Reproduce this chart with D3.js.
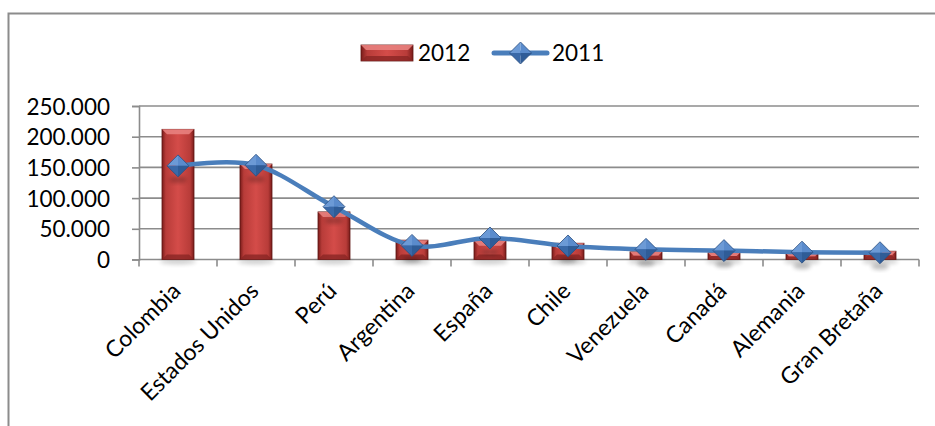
<!DOCTYPE html>
<html>
<head>
<meta charset="utf-8">
<script src="https://cdn.jsdelivr.net/npm/d3@7"></script>
<style>
  html, body { margin: 0; padding: 0; background: #fff; }
  svg { display: block; }
  text { font-family: Lato, "Open Sans", sans-serif; fill: #000; }
</style>
</head>
<body>
<svg id="chart" width="935" height="426"></svg>
<script>
// Visitors by country of origin, 2012 vs 2011
const categories = ["Colombia", "Estados Unidos", "Perú", "Argentina", "España",
                    "Chile", "Venezuela", "Canadá", "Alemania", "Gran Bretaña"];
const values2012 = [212000, 155500, 77500, 31500, 30500, 26500, 12500, 11000, 10000, 13500];
const values2011 = [152500, 153500, 86000, 23000, 35000, 22000, 16500, 14500, 12000, 11000];
const yTicks = [0, 50000, 100000, 150000, 200000, 250000];
const seriesNames = ["2012", "2011"];

const svg = d3.select("#chart");
const W = 935, H = 426;
const plot = { left: 139, right: 919, top: 106, bottom: 259.5 };

const x = d3.scaleBand().domain(categories).range([plot.left, plot.right]).paddingInner(0).paddingOuter(0);
const y = d3.scaleLinear().domain([0, 250000]).range([plot.bottom, plot.top]);
const fmt = v => v === 0 ? "0" : d3.format(",")(v).replace(/,/g, ".");

// ---------- gradients / filters ----------
const defs = svg.append("defs");
const barGrad = defs.append("linearGradient").attr("id", "barGrad")
  .attr("x1", 0).attr("x2", 1).attr("y1", 0).attr("y2", 0);
[[0, "#7a1c1a"], [0.12, "#b83c39"], [0.5, "#d44c49"], [0.88, "#b83c39"], [1, "#7a1c1a"]]
  .forEach(([o, c]) => barGrad.append("stop").attr("offset", o).attr("stop-color", c));

const shadow = defs.append("filter").attr("id", "shadow")
  .attr("x", "-50%").attr("y", "-50%").attr("width", "200%").attr("height", "200%");
shadow.append("feGaussianBlur").attr("stdDeviation", 2.2);

// ---------- frame ----------
svg.append("rect").attr("width", W).attr("height", H).attr("fill", "#fff");
svg.append("path").attr("d", `M8.5,${H} V13.5 H${W}`)
  .attr("fill", "none").attr("stroke", "#8c8c8c").attr("stroke-width", 2);

// ---------- gridlines ----------
svg.append("g").selectAll("line").data(yTicks.filter(t => t > 0)).join("line")
  .attr("x1", plot.left).attr("x2", plot.right)
  .attr("y1", d => y(d)).attr("y2", d => y(d))
  .attr("stroke", "#8c8c8c").attr("stroke-width", 1.6);

// ---------- axes ----------
const yAxis = svg.append("g").attr("transform", `translate(${plot.left},0)`)
  .call(d3.axisLeft(y).tickValues(yTicks).tickFormat(fmt).tickSize(7).tickPadding(22));
yAxis.select(".domain").attr("stroke", "#8c8c8c").attr("stroke-width", 1.6);
yAxis.selectAll(".tick line").attr("stroke", "#8c8c8c").attr("stroke-width", 1.6);
yAxis.selectAll(".tick text").attr("font-size", 22.5).attr("font-family", "Lato, sans-serif")
  .attr("fill", "#000").attr("dy", "0.36em");

const xAxisG = svg.append("g").attr("transform", `translate(0,${plot.bottom})`);
xAxisG.append("line").attr("x1", plot.left).attr("x2", plot.right)
  .attr("stroke", "#8c8c8c").attr("stroke-width", 1.6);
const tickXs = d3.range(categories.length + 1).map(i => plot.left + i * x.bandwidth());
xAxisG.selectAll("line.tk").data(tickXs).join("line").attr("class", "tk")
  .attr("x1", d => d).attr("x2", d => d).attr("y1", 0).attr("y2", 7)
  .attr("stroke", "#8c8c8c").attr("stroke-width", 1.6);

svg.append("g").selectAll("text").data(categories).join("text")
  .attr("transform", d => `translate(${x(d) + x.bandwidth() / 2 + 4},${plot.bottom + 33}) rotate(-45)`)
  .attr("text-anchor", "end").attr("font-size", 23).text(d => d);

// ---------- bars (2012) ----------
const barW = 32;
function drawBar(g, x0, y0, w, h) {
  const bev = Math.min(5, h / 2);
  g.append("rect").attr("x", x0).attr("y", y0).attr("width", w).attr("height", h)
    .attr("fill", "url(#barGrad)").attr("stroke", "#5e1513").attr("stroke-width", 0.8);
  // top bevel
  g.append("path")
    .attr("d", `M${x0},${y0} H${x0 + w} L${x0 + w - bev},${y0 + bev} H${x0 + bev} Z`)
    .attr("fill", "#e8817e").attr("opacity", 0.9);
  // bottom bevel
  g.append("path")
    .attr("d", `M${x0},${y0 + h} H${x0 + w} L${x0 + w - bev},${y0 + h - bev} H${x0 + bev} Z`)
    .attr("fill", "#8a2624").attr("opacity", 0.8);
}
const barsG = svg.append("g");
// soft base shadows
barsG.selectAll("ellipse").data(values2012).join("ellipse")
  .attr("cx", (d, i) => x(categories[i]) + x.bandwidth() / 2)
  .attr("cy", plot.bottom + 2).attr("rx", barW / 2 + 2).attr("ry", 3)
  .attr("fill", "#000").attr("opacity", 0.18).attr("filter", "url(#shadow)");
values2012.forEach((v, i) => {
  const cx = x(categories[i]) + x.bandwidth() / 2;
  drawBar(barsG.append("g"), cx - barW / 2, y(v), barW, y(0) - y(v));
});

// ---------- line (2011) ----------
const pts = values2011.map((v, i) => [x(categories[i]) + x.bandwidth() / 2, y(v)]);
svg.append("path").datum(pts)
  .attr("d", d3.line().curve(d3.curveCardinal.tension(0)))
  .attr("fill", "none").attr("stroke", "#4a7ebb").attr("stroke-width", 4.5)
  .attr("stroke-linecap", "round");

function drawDiamond(g, cx, cy, r, withShadow) {
  if (withShadow) {
    g.append("ellipse").attr("cx", cx).attr("cy", cy + r + 3).attr("rx", r * 0.8).attr("ry", 3)
      .attr("fill", "#000").attr("opacity", 0.25).attr("filter", "url(#shadow)");
  }
  const T = [cx, cy - r], R = [cx + r, cy], B = [cx, cy + r], L = [cx - r, cy], C = [cx, cy];
  const facets = [
    [[T, L, C], "#6c9ad6"],
    [[T, R, C], "#5a8bcc"],
    [[L, B, C], "#3a69a8"],
    [[R, B, C], "#2f5c97"]
  ];
  facets.forEach(([p, c]) => g.append("path").attr("d", "M" + p.join("L") + "Z").attr("fill", c));
  g.append("path").attr("d", "M" + [T, R, B, L].join("L") + "Z")
    .attr("fill", "none").attr("stroke", "#2b4f80").attr("stroke-width", 0.8);
}
const mk = svg.append("g");
pts.forEach(([px, py]) => drawDiamond(mk.append("g"), px, py, 11, true));

// ---------- legend ----------
const lg = svg.append("g");
drawBar(lg.append("g"), 361, 45, 52, 16);
lg.append("text").attr("x", 418).attr("y", 61).attr("font-size", 22.5).text(seriesNames[0]);
lg.append("line").attr("x1", 494).attr("x2", 547).attr("y1", 53).attr("y2", 53)
  .attr("stroke", "#4a7ebb").attr("stroke-width", 5).attr("stroke-linecap", "round");
drawDiamond(lg.append("g"), 520.5, 53, 11, false);
lg.append("text").attr("x", 552).attr("y", 61).attr("font-size", 22.5).text(seriesNames[1]);
</script>
</body>
</html>
